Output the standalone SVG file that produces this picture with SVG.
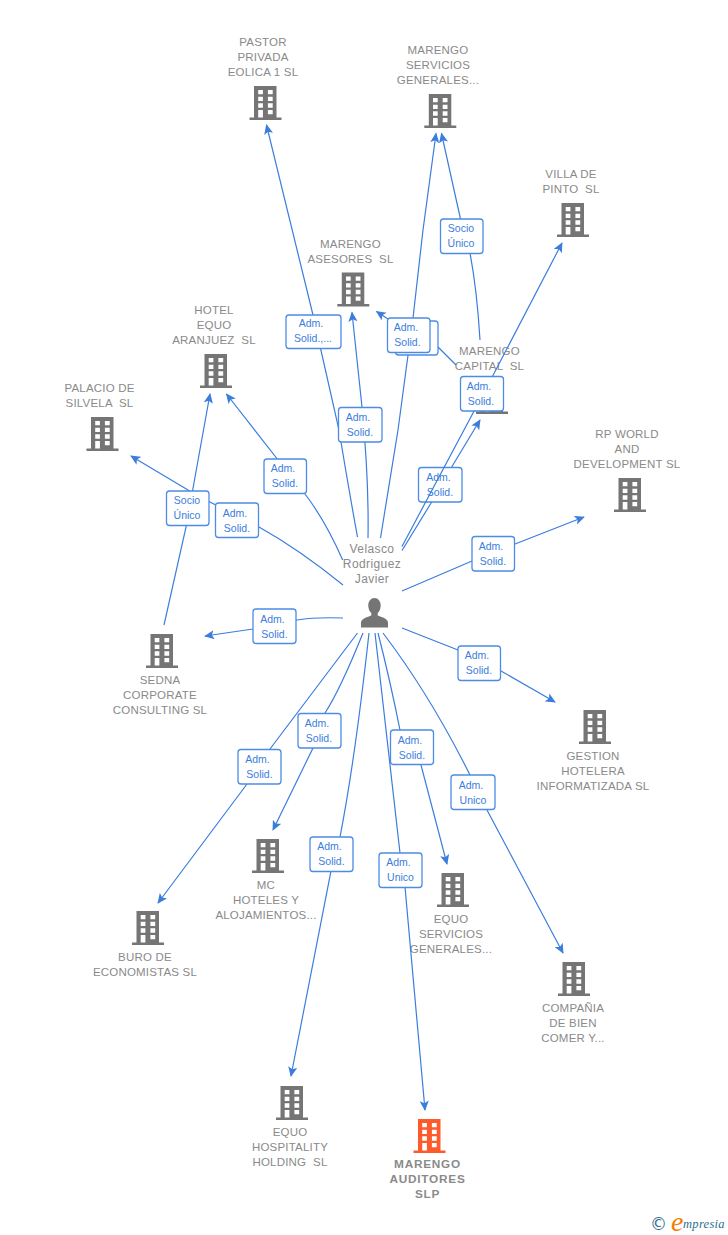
<svg xmlns="http://www.w3.org/2000/svg" width="728" height="1235" viewBox="0 0 728 1235">
<style>
text{font-family:"Liberation Sans",Arial,sans-serif;white-space:pre}
.n{font-size:11.5px;letter-spacing:.2px;fill:#8a8a8a;text-anchor:middle}
.b{font-weight:bold;font-size:11.8px;letter-spacing:.75px}
.p{font-size:12px;letter-spacing:.4px}
.l{font-size:10.5px;fill:#3b7ddd;text-anchor:middle}
.r{fill:#fff;stroke:#4c8ce6;stroke-width:1.3}
.c{fill:none;stroke:#3b7ddd;stroke-width:1.2}
.a{marker-end:url(#arr)}
.g{fill:#757575}
.o{fill:#ff5a2b}
</style>
<defs>
<marker id="arr" viewBox="0 0 12 10" refX="10" refY="5" markerWidth="11" markerHeight="9.5" markerUnits="userSpaceOnUse" orient="auto">
<path d="M0 0L11 5L0 10L2.5 5Z" fill="#3b7ddd"/>
</marker>
<g id="bld">
<path fill-rule="evenodd" d="M4.5 0H27V31.5H32V34H0V31.5H4.5ZM8.7 4V8.3H13.4V4ZM18.4 4V8.3H23.2V4ZM8.7 10.7V15H13.4V10.7ZM18.4 10.7V15H23.2V10.7ZM8.7 17.3V21.7H13.4V17.3ZM18.4 17.3V21.7H23.2V17.3ZM8.7 24V31.5H13.4V24ZM18.4 24V28.3H23.2V24Z"/>
</g>
</defs>
<rect width="728" height="1235" fill="#fff"/>

<g id="nodes">
<g id="n-pastor"><use href="#bld" class="g" x="249.5" y="86"/><text class="n" x="263" y="46">PASTOR</text><text class="n" x="263" y="61">PRIVADA</text><text class="n" x="263" y="76">EOLICA 1 SL</text></g>
<g id="n-servicios"><use href="#bld" class="g" x="424.3" y="94"/><text class="n" x="438" y="54">MARENGO</text><text class="n" x="438" y="69">SERVICIOS</text><text class="n" x="438" y="84">GENERALES...</text></g>
<g id="n-asesores"><use href="#bld" class="g" x="337.3" y="272.5"/><text class="n" x="350.5" y="248">MARENGO</text><text class="n" x="350.5" y="263">ASESORES  SL</text></g>
<g id="n-villa"><use href="#bld" class="g" x="557" y="203"/><text class="n" x="571" y="178">VILLA DE</text><text class="n" x="571" y="193">PINTO  SL</text></g>
<g id="n-hotel"><use href="#bld" class="g" x="200" y="354"/><text class="n" x="214" y="314">HOTEL</text><text class="n" x="214" y="329">EQUO</text><text class="n" x="214" y="344">ARANJUEZ  SL</text></g>
<g id="n-palacio"><use href="#bld" class="g" x="86.5" y="417"/><text class="n" x="99.5" y="392">PALACIO DE</text><text class="n" x="99.5" y="407">SILVELA  SL</text></g>
<g id="n-capital"><use href="#bld" class="g" x="476" y="380"/><text class="n" x="489.5" y="355">MARENGO</text><text class="n" x="489.5" y="370">CAPITAL  SL</text></g>
<g id="n-rp"><use href="#bld" class="g" x="614" y="478"/><text class="n" x="627" y="438">RP WORLD</text><text class="n" x="627" y="453">AND</text><text class="n" x="627" y="468">DEVELOPMENT SL</text></g>
<g id="n-gestion"><use href="#bld" class="g" x="579" y="710"/><text class="n" x="593" y="760">GESTION</text><text class="n" x="593" y="775">HOTELERA</text><text class="n" x="593" y="790">INFORMATIZADA SL</text></g>
<g id="n-compania"><use href="#bld" class="g" x="558" y="962"/><text class="n" x="573" y="1012">COMPAÑIA</text><text class="n" x="573" y="1027">DE BIEN</text><text class="n" x="573" y="1042">COMER Y...</text></g>
<g id="n-equoserv"><use href="#bld" class="g" x="437" y="873"/><text class="n" x="451" y="923">EQUO</text><text class="n" x="451" y="938">SERVICIOS</text><text class="n" x="451" y="953">GENERALES...</text></g>
<g id="n-auditores"><use href="#bld" class="o" x="413.5" y="1119"/><text class="n b" x="427.5" y="1168">MARENGO</text><text class="n b" x="427.5" y="1183">AUDITORES</text><text class="n b" x="427.5" y="1198">SLP</text></g>
<g id="n-equohold"><use href="#bld" class="g" x="276" y="1086"/><text class="n" x="290" y="1136">EQUO</text><text class="n" x="290" y="1151">HOSPITALITY</text><text class="n" x="290" y="1166">HOLDING  SL</text></g>
<g id="n-mc"><use href="#bld" class="g" x="252" y="839"/><text class="n" x="266" y="889">MC</text><text class="n" x="266" y="904">HOTELES Y</text><text class="n" x="266" y="919">ALOJAMIENTOS...</text></g>
<g id="n-buro"><use href="#bld" class="g" x="132" y="911"/><text class="n" x="145" y="961">BURO DE</text><text class="n" x="145" y="976">ECONOMISTAS SL</text></g>
<g id="n-sedna"><use href="#bld" class="g" x="146" y="634"/><text class="n" x="160" y="684">SEDNA</text><text class="n" x="160" y="699">CORPORATE</text><text class="n" x="160" y="714">CONSULTING SL</text></g>
<g id="n-velasco">
<path class="g" d="M374.500 598c3.600 0 6.200 3.200 6.200 7.500 0 3.300-1.300 6-3 7.500v2.500c3.500 1.600 10.300 2.700 10.300 7.500v4.500h-27v-4.500c0-4.800 6.800-5.900 10.300-7.500V613c-1.700-1.500-3-4.200-3-7.500 0-4.300 2.600-7.500 6.200-7.500Z"/>
<text class="n p" x="372" y="553">Velasco</text><text class="n p" x="372" y="568">Rodriguez</text><text class="n p" x="372" y="583">Javier</text>
</g>
</g>

<g id="label-under">
<g id="l-capital-direct"><rect class="r" x="418.500" y="467.500" width="43.500" height="34.500" rx="3"/><text class="l" x="438.500" y="481">Adm.</text><text class="l" x="440" y="496">Solid.</text></g>
</g>

<g id="connectors">
<path class="c a" d="M357.500 537Q348 485 339 430L313 315L266.500 125"/>
<path class="c a" d="M380.500 538L398 430L413 318L423 230L436 133.500"/>
<path class="c a" d="M480 340Q477 290 470 253L460.500 219L441.500 133.500"/>
<path class="c a" d="M368 538Q369 480 362 407L352 312.500"/>
<path class="c a" d="M456 365L438 347M388 319L376.500 311.500"/>
<path class="c a" d="M402 546.500L492.700 376L562 243"/>
<path class="c" d="M402 550.500L431.700 502"/><path class="c a" d="M451.700 467L480 420"/>
<path class="c a" d="M402 591L472 561L515 544L584 517"/>
<path class="c a" d="M342.700 560Q325 520 305 494L276.500 458L226.500 394"/>
<path class="c a" d="M343 585Q300 550 259 527L208 501L188 490L131 456"/>
<path class="c a" d="M164 625L186.500 525L192.500 491L210 394"/>
<path class="c a" d="M343 618Q315 617 297 620L253 629L205 636"/>
<path class="c a" d="M402 628L458 650L501 671L555 702"/>
<path class="c a" d="M383 633Q430 695 470 775L487 810L563 953"/>
<path class="c a" d="M378 633Q390 680 400 730L421 765L447 864"/>
<path class="c a" d="M375 633L400 853L405 887L425 1110"/>
<path class="c a" d="M369 633Q355 760 340 837L331 871L291 1076"/>
<path class="c a" d="M363 633Q340 690 325 713L313 748L273 830"/>
<path class="c a" d="M357.500 633L270 749L247 784L158 903"/>
</g>

<g id="labels">
<g><rect class="r" x="286" y="315" width="55" height="33.500" rx="3"/><text class="l" x="311" y="327">Adm.</text><text class="l" x="313" y="342">Solid.,...</text></g>
<g><rect class="r" x="440.500" y="219" width="42.500" height="34.500" rx="3"/><text class="l" x="461" y="232">Socio</text><text class="l" x="461" y="247">Único</text></g>
<g><rect class="r" x="395.500" y="321" width="42.500" height="34" rx="3"/></g>
<g><rect class="r" x="387.500" y="318" width="42.500" height="34.500" rx="3"/><text class="l" x="406" y="331">Adm.</text><text class="l" x="407.500" y="346">Solid.</text></g>
<g><rect class="r" x="338.500" y="407.500" width="43.500" height="34.500" rx="3"/><text class="l" x="358" y="421">Adm.</text><text class="l" x="360" y="436">Solid.</text></g>
<g><rect class="r" x="460.500" y="376.500" width="43" height="34.500" rx="3"/><text class="l" x="479" y="389.500">Adm.</text><text class="l" x="481" y="404.500">Solid.</text></g>
<g><rect class="r" x="264" y="459" width="42.500" height="34.500" rx="3"/><text class="l" x="283" y="472">Adm.</text><text class="l" x="285" y="487">Solid.</text></g>
<g><rect class="r" x="166.500" y="491" width="42.500" height="34.500" rx="3"/><text class="l" x="187" y="504">Socio</text><text class="l" x="187" y="519">Único</text></g>
<g><rect class="r" x="215.500" y="503" width="43" height="34.500" rx="3"/><text class="l" x="235" y="516.500">Adm.</text><text class="l" x="237" y="531.500">Solid.</text></g>
<g><rect class="r" x="472" y="536.500" width="42.500" height="34.500" rx="3"/><text class="l" x="491" y="550">Adm.</text><text class="l" x="493" y="565">Solid.</text></g>
<g><rect class="r" x="253" y="609" width="43" height="34.500" rx="3"/><text class="l" x="272.500" y="622.500">Adm.</text><text class="l" x="274.500" y="637.500">Solid.</text></g>
<g><rect class="r" x="458" y="646" width="42.500" height="34.500" rx="3"/><text class="l" x="477" y="659">Adm.</text><text class="l" x="479" y="674">Solid.</text></g>
<g><rect class="r" x="298" y="713.500" width="43" height="34.500" rx="3"/><text class="l" x="317" y="726.500">Adm.</text><text class="l" x="319" y="741.500">Solid.</text></g>
<g><rect class="r" x="390.500" y="730" width="43" height="34.500" rx="3"/><text class="l" x="410" y="743.500">Adm.</text><text class="l" x="412" y="758.500">Solid.</text></g>
<g><rect class="r" x="238" y="749.500" width="43" height="34.500" rx="3"/><text class="l" x="257.500" y="762.500">Adm.</text><text class="l" x="259.500" y="777.500">Solid.</text></g>
<g><rect class="r" x="451" y="775" width="44" height="34.500" rx="3"/><text class="l" x="471" y="788.500">Adm.</text><text class="l" x="473" y="803.500">Unico</text></g>
<g><rect class="r" x="310" y="837" width="43" height="34.500" rx="3"/><text class="l" x="329.500" y="850">Adm.</text><text class="l" x="331.500" y="865">Solid.</text></g>
<g><rect class="r" x="379" y="853" width="43" height="34.500" rx="3"/><text class="l" x="398.500" y="866">Adm.</text><text class="l" x="400.500" y="881">Unico</text></g>
</g>

<g id="logo">
<text x="650" y="1230" style="font-family:'DejaVu Sans',sans-serif;font-size:17px;fill:#2d6f8e">©</text>
<text x="671" y="1230.500" style="font-family:'Liberation Serif',serif;font-style:italic;font-size:28px;fill:#f57c00">e</text>
<text x="683" y="1228" style="font-family:'Liberation Serif',serif;font-style:italic;font-size:12.500px;fill:#2d6f8e;letter-spacing:.3px">mpresia</text>
</g>
</svg>
